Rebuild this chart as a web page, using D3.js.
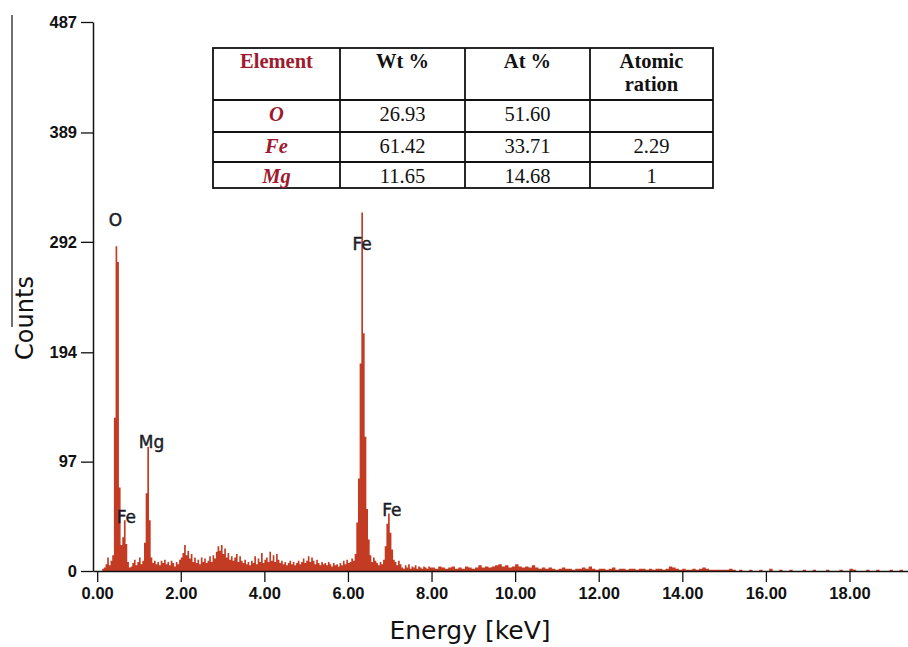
<!DOCTYPE html>
<html>
<head>
<meta charset="utf-8">
<script src="https://cdn.jsdelivr.net/npm/d3@7"></script>
<style>
  html, body { margin: 0; padding: 0; background: #fff; }
  svg { display: block; }
</style>
</head>
<body>
<svg id="chart" width="908" height="647"></svg>
<script>
// ---------------- DATA ----------------
// EDS spectrum counts, 0.00–7.96 keV in 0.04 keV channels
const lowStart = 0.0, lowStep = 0.04;
const lowCounts = [
  0,0,0,2,3,6,12,5,9,14,
  136,288,274,74,23,30,45,24,8,3,
  4,7,10,5,8,12,6,9,25,69,
  110,45,12,7,9,6,8,5,9,7,
  10,6,8,5,9,7,4,8,6,10,
  12,16,23,14,18,11,15,8,12,7,
  10,6,12,8,11,7,9,13,8,14,
  11,17,22,18,23,15,20,12,16,10,
  13,9,12,15,8,13,9,7,10,6,
  8,5,9,7,13,6,11,8,16,7,
  10,12,8,17,9,14,8,15,10,7,
  9,6,8,5,7,9,6,8,5,7,
  9,6,8,11,7,9,13,8,12,9,
  6,10,7,5,8,6,7,5,8,6,
  4,7,5,6,4,7,5,9,6,10,
  7,8,11,9,15,43,82,184,318,211,
  119,55,28,14,8,12,9,7,5,8,
  6,10,22,42,51,34,19,10,8,5,
  9,6,3,2,5,3,6,2,4,3,
  5,2,4,3,2,4,3,2,4,3
];
// 8.00–19.36 keV in 0.08 keV channels
const highStart = 8.0, highStep = 0.08;
const highCounts = [
  3,2,4,3,2,3,4,2,3,2,4,3,2,3,5,3,4,3,
  4,5,6,4,5,3,4,6,4,3,4,3,5,
  3,2,3,2,3,2,1,2,3,2,2,1,2,2,3,
  2,4,2,1,2,2,1,2,3,1,2,2,1,2,2,1,2,
  2,1,2,1,2,2,1,2,4,3,2,1,
  2,1,1,2,1,2,3,2,1,1,1,1,1,1,2,1,
  0,1,0,0,1,0,0,1,0,0,
  2,0,0,1,0,0,1,0,0,0,
  1,0,0,1,0,0,0,1,0,0,
  0,1,0,0,2,1,0,0,0,1,
  0,0,1,0,0,0,1,0,0,1,
  0,0
];
const xTicks = [0,2,4,6,8,10,12,14,16,18];
const yTicks = [0,97,194,292,389,487];
const peakLabels = ["O","Mg","Fe","Fe","Fe"];
const peakEnergies = [0.44,1.30,0.70,6.34,7.05];
const peakCounts = [306,109,43,285,49];

const tableHeaders = ["Element","Wt %","At %","Atomic|ration"];
const tableElements = ["O","Fe","Mg"];
const tableWt = ["26.93","61.42","11.65"];
const tableAt = ["51.60","33.71","14.68"];
const tableRatio = ["","2.29","1"];

// ---------------- BUILD ----------------
const spectrum = [];
lowCounts.forEach((c,i)=>spectrum.push({e: +(lowStart + i*lowStep).toFixed(2), c}));
highCounts.forEach((c,i)=>spectrum.push({e: +(highStart + i*highStep).toFixed(2), c}));
spectrum.push({e: 19.44, c: 0});

const svg = d3.select("#chart");
const x = d3.scaleLinear().domain([-0.1, 19.4]).range([93, 908]);
const y = d3.scaleLinear().domain([0, 487]).range([571, 22]);

const red = "#c23b22";

// spectrum
const area = d3.area()
  .x(d => x(d.e))
  .y0(y(0))
  .y1(d => y(d.c))
  .curve(d3.curveStepAfter);
svg.append("path").datum(spectrum)
  .attr("d", area)
  .attr("fill", red)
  .attr("stroke", "none");

// axes
const axisFont = "'Liberation Sans', Arial, sans-serif";
const yAxis = svg.append("g")
  .attr("transform", `translate(${x(-0.1)},0)`)
  .call(d3.axisLeft(y).tickValues(yTicks).tickSize(12).tickSizeOuter(0).tickPadding(4).tickFormat(d3.format("d")));
const xAxis = svg.append("g")
  .attr("transform", `translate(0,${y(0)})`)
  .call(d3.axisBottom(x).tickValues(xTicks).tickSize(11).tickSizeOuter(0).tickPadding(5).tickFormat(d3.format(".2f")));
[yAxis, xAxis].forEach(g => {
  g.select(".domain").attr("stroke", "#111").attr("stroke-width", 1.5);
  g.selectAll(".tick line").attr("stroke", "#111").attr("stroke-width", 1.3);
  g.selectAll(".tick text")
    .attr("fill", "#111")
    .style("font-family", axisFont)
    .style("font-weight", "bold")
    .style("font-size", "16.5px");
});

// axis titles
const titleFont = "'DejaVu Sans', Verdana, sans-serif";
svg.append("text")
  .attr("x", 470).attr("y", 639)
  .attr("text-anchor", "middle")
  .style("font-family", titleFont)
  .style("font-size", "25px")
  .attr("fill", "#111")
  .text("Energy [keV]");
svg.append("text")
  .attr("transform", "translate(33,318) rotate(-90)")
  .attr("text-anchor", "middle")
  .style("font-family", titleFont)
  .style("font-size", "24px")
  .attr("fill", "#111")
  .text("Counts");
// thin line left of the y title (as in the reference)
svg.append("line")
  .attr("x1", 12).attr("x2", 12).attr("y1", 15).attr("y2", 327)
  .attr("stroke", "#111").attr("stroke-width", 1.2);

// peak labels
svg.append("g").selectAll("text")
  .data(peakLabels.map((t,i)=>({t, e: peakEnergies[i], c: peakCounts[i]})))
  .join("text")
  .attr("x", d => x(d.e))
  .attr("y", d => y(d.c))
  .attr("text-anchor", "middle")
  .style("font-family", titleFont)
  .style("font-size", "17px")
  .attr("fill", "#1c1c28")
  .attr("stroke", "#1c1c28")
  .attr("stroke-width", 0.45)
  .text(d => d.t);

// table
const colEdges = [213, 340, 465, 590, 713];
const rowEdges = [48, 100, 132, 162, 188];
const tbl = svg.append("g");
const serif = "'Liberation Serif', 'Times New Roman', serif";
const maroon = "#9e1a2e";
tbl.append("rect")
  .attr("x", colEdges[0]).attr("y", rowEdges[0])
  .attr("width", colEdges[4]-colEdges[0]).attr("height", rowEdges[4]-rowEdges[0])
  .attr("fill", "#fff").attr("stroke", "#111").attr("stroke-width", 1.8);
colEdges.slice(1,4).forEach(cx => tbl.append("line")
  .attr("x1", cx).attr("x2", cx).attr("y1", rowEdges[0]).attr("y2", rowEdges[4])
  .attr("stroke", "#111").attr("stroke-width", 1.8));
rowEdges.slice(1,4).forEach(ry => tbl.append("line")
  .attr("x1", colEdges[0]).attr("x2", colEdges[4]).attr("y1", ry).attr("y2", ry)
  .attr("stroke", "#111").attr("stroke-width", 1.8));
const colCenter = i => (colEdges[i] + colEdges[i+1]) / 2;

tableHeaders.forEach((h,i) => {
  const lines = h.split("|");
  lines.forEach((ln,k) => {
    tbl.append("text")
      .attr("x", colCenter(i)).attr("y", rowEdges[0] + 20 + k*23)
      .attr("text-anchor", "middle")
      .style("font-family", serif).style("font-weight", "bold").style("font-size", "20.5px")
      .attr("fill", i === 0 ? maroon : "#111")
      .text(ln);
  });
});
tableElements.forEach((el, r) => {
  const base = rowEdges[r+1] + 21;
  tbl.append("text").attr("x", colCenter(0)).attr("y", base)
    .attr("text-anchor", "middle")
    .style("font-family", serif).style("font-weight", "bold").style("font-style", "italic").style("font-size", "20.5px")
    .attr("fill", maroon).text(el);
  [tableWt[r], tableAt[r], tableRatio[r]].forEach((v, c) => {
    tbl.append("text").attr("x", colCenter(c+1)).attr("y", base)
      .attr("text-anchor", "middle")
      .style("font-family", serif).style("font-size", "20.5px")
      .attr("fill", "#111").text(v);
  });
});
</script>
</body>
</html>
